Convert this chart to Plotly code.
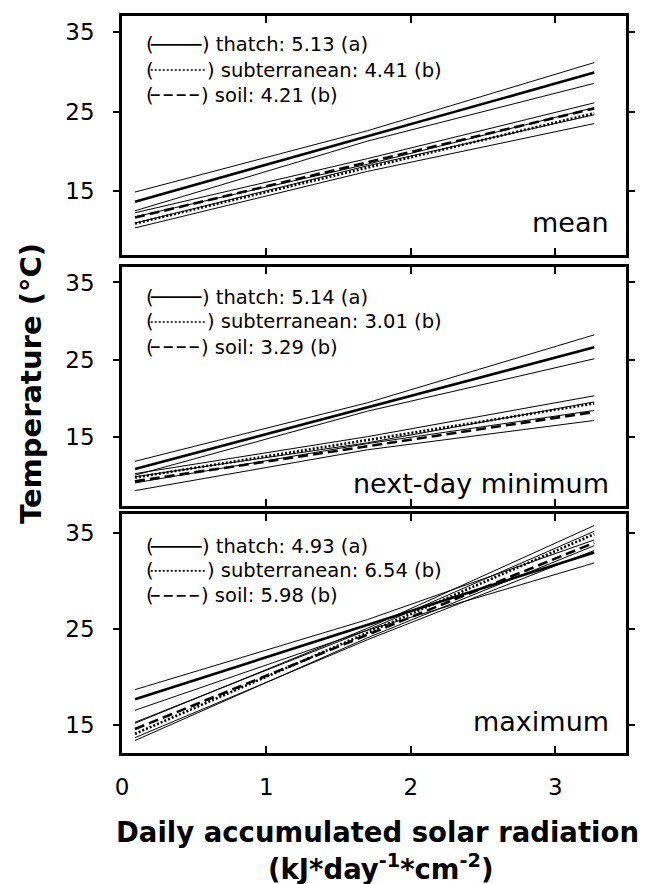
import plotly.graph_objects as go
from plotly.subplots import make_subplots

# ---------------- data ----------------
x_line = [0.09, 3.27]          # regression line end points (x)
x_ci = [0.09, 1.7, 3.27]       # confidence band sample points (x)

panel_names = ["mean", "next-day minimum", "maximum"]
x_ticks = [0, 1, 2, 3]
y_ticks = [15, 25, 35]
y_ranges = [[7, 37], [6, 37], [12.1, 37]]

legend_mean = ["thatch: 5.13 (a)", "subterranean: 4.41 (b)", "soil: 4.21 (b)"]
legend_min = ["thatch: 5.14 (a)", "subterranean: 3.01 (b)", "soil: 3.29 (b)"]
legend_max = ["thatch: 4.93 (a)", "subterranean: 6.54 (b)", "soil: 5.98 (b)"]

# mean temperature
mean_thatch = [13.7, 29.9]
mean_thatch_hi = [14.9, 22.6, 31.15]
mean_thatch_lo = [12.55, 21.3, 28.55]
mean_sub = [10.95, 24.8]
mean_sub_hi = [11.8, 18.4, 25.5]
mean_sub_lo = [10.4, 17.5, 23.5]
mean_soil = [11.7, 25.4]
mean_soil_hi = [12.3, 19.1, 26.1]
mean_soil_lo = [11.0, 18.2, 24.6]

# next-day minimum temperature
min_thatch = [10.8, 26.6]
min_thatch_hi = [11.8, 19.4, 28.2]
min_thatch_lo = [10.0, 18.3, 25.1]
min_sub = [9.7, 19.3]
min_sub_hi = [10.2, 15.0, 20.3]
min_sub_lo = [9.0, 14.1, 18.4]
min_soil = [9.2, 18.2]
min_soil_hi = [9.8, 14.2, 19.5]
min_soil_lo = [8.0, 13.3, 17.1]

# maximum temperature
max_thatch = [17.7, 33.0]
max_thatch_hi = [18.7, 26.0, 34.3]
max_thatch_lo = [16.55, 24.9, 31.9]
max_sub = [14.1, 34.9]
max_sub_hi = [15.2, 25.1, 35.8]
max_sub_lo = [13.4, 24.1, 33.7]
max_soil = [14.6, 34.0]
max_soil_hi = [15.3, 24.9, 35.2]
max_soil_lo = [13.7, 23.9, 33.2]

panels = [
    dict(name=panel_names[0], legend=legend_mean,
         series=[(mean_thatch, mean_thatch_hi, mean_thatch_lo),
                 (mean_sub, mean_sub_hi, mean_sub_lo),
                 (mean_soil, mean_soil_hi, mean_soil_lo)]),
    dict(name=panel_names[1], legend=legend_min,
         series=[(min_thatch, min_thatch_hi, min_thatch_lo),
                 (min_sub, min_sub_hi, min_sub_lo),
                 (min_soil, min_soil_hi, min_soil_lo)]),
    dict(name=panel_names[2], legend=legend_max,
         series=[(max_thatch, max_thatch_hi, max_thatch_lo),
                 (max_sub, max_sub_hi, max_sub_lo),
                 (max_soil, max_soil_hi, max_soil_lo)]),
]

# ---------------- styling ----------------
FONT = "DejaVu Sans"
dashes = ["solid", "2px,2px", "10px,5px"]
glyph_dashes = ["solid", "2px,2px", "9px,4px"]
glyph_end = [0.156, 0.166, 0.154]
domains = [[0.6757, 1.0], [0.3351, 0.6594], [0.0, 0.3243]]
legend_rows = [[0.879, 0.774, 0.669], [0.874, 0.770, 0.665], [0.862, 0.762, 0.657]]
label_y = [0.134, 0.096, 0.130]

fig = make_subplots(rows=3, cols=1)

for i, p in enumerate(panels):
    r = i + 1
    for (m, hi, lo) in p["series"]:
        for band in (hi, lo):
            fig.add_trace(go.Scatter(x=x_ci, y=band, mode="lines",
                                     line=dict(color="black", width=1),
                                     showlegend=False, hoverinfo="skip"), row=r, col=1)
    for k, (m, hi, lo) in enumerate(p["series"]):
        fig.add_trace(go.Scatter(x=x_line, y=m, mode="lines",
                                 line=dict(color="black", width=2.6, dash=dashes[k]),
                                 showlegend=False, hoverinfo="skip"), row=r, col=1)

    xa = "x" if r == 1 else f"x{r}"
    ya = "y" if r == 1 else f"y{r}"
    # legend pieces
    for k, txt in enumerate(p["legend"]):
        yy = legend_rows[i][k]
        fig.add_shape(type="line", xref=f"{xa} domain", yref=f"{ya} domain",
                      x0=0.057, x1=glyph_end[k] + 0.002, y0=yy, y1=yy,
                      line=dict(color="black", width=1.7, dash=glyph_dashes[k]))
        fig.add_annotation(xref=f"{xa} domain", yref=f"{ya} domain", x=0.046, y=yy,
                           text="(", showarrow=False, xanchor="left", yanchor="middle",
                           font=dict(family=FONT, size=19.5, color="black"), borderpad=0)
        fig.add_annotation(xref=f"{xa} domain", yref=f"{ya} domain", x=glyph_end[k], y=yy,
                           text=") " + txt, showarrow=False, xanchor="left", yanchor="middle",
                           font=dict(family=FONT, size=19.5, color="black"), borderpad=0)
    fig.add_annotation(xref=f"{xa} domain", yref=f"{ya} domain", x=0.968, y=label_y[i],
                       text=p["name"], showarrow=False, xanchor="right", yanchor="middle",
                       font=dict(family=FONT, size=27, color="black"), borderpad=0)

    fig.update_xaxes(row=r, col=1, range=[0, 3.49], tickvals=x_ticks,
                     showticklabels=(r == 3), ticks="inside", ticklen=7, tickwidth=2,
                     tickcolor="black", mirror="ticks", showline=True, linewidth=2.5,
                     linecolor="black", showgrid=False, zeroline=False,
                     tickfont=dict(family=FONT, size=23, color="black"),
                     ticklabelstandoff=12)
    fig.update_yaxes(row=r, col=1, range=y_ranges[i], tickvals=y_ticks,
                     domain=domains[i], ticks="outside", ticklen=6, tickwidth=2,
                     tickcolor="black", mirror="ticks", showline=True, linewidth=2.5,
                     linecolor="black", showgrid=False, zeroline=False,
                     tickfont=dict(family=FONT, size=23, color="black"),
                     ticklabelstandoff=14)

# axis titles
fig.add_annotation(xref="paper", yref="paper", x=-0.182, y=0.501,
                   text="<b>Temperature (°C)</b>", textangle=-90, showarrow=False,
                   xanchor="center", yanchor="middle",
                   font=dict(family=FONT, size=29, color="black"))
fig.add_annotation(xref="paper", yref="paper", x=0.506, y=-0.107,
                   text="<b>Daily accumulated solar radiation</b>", showarrow=False,
                   xanchor="center", yanchor="middle",
                   font=dict(family=FONT, size=27.5, color="black"))
fig.add_annotation(xref="paper", yref="paper", x=0.513, y=-0.155,
                   text="<b>(kJ*day<sup>-1</sup>*cm<sup>-2</sup>)</b>", showarrow=False,
                   xanchor="center", yanchor="middle",
                   font=dict(family=FONT, size=27.5, color="black"))

fig.update_layout(width=646, height=884, autosize=False,
                  margin=dict(l=122, r=11, t=16, b=131),
                  plot_bgcolor="white", paper_bgcolor="white", showlegend=False)

fig.write_html("out.html")
